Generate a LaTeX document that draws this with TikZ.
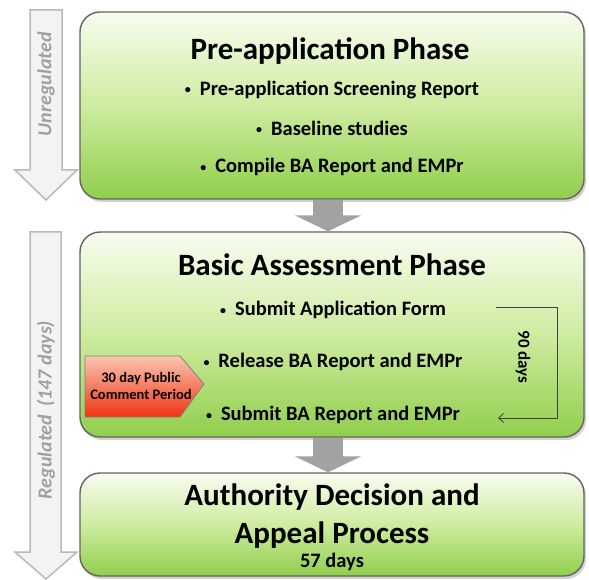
\documentclass[tikz,border=0pt]{standalone}
\usepackage{fontspec}
\setmainfont{Carlito}
\usepackage{tikz}
\usetikzlibrary{arrows.meta, positioning, shadows}
\definecolor{phasetop}{RGB}{248, 252, 240}
\definecolor{phasemid}{RGB}{206, 236, 160}
\definecolor{phasebottom}{RGB}{144, 206, 76}
\definecolor{phaseborder}{RGB}{100, 100, 100}
\definecolor{sidefill}{RGB}{243, 243, 243}
\definecolor{sideborder}{RGB}{185, 185, 185}
\definecolor{sidetext}{RGB}{160, 160, 160}
\definecolor{flowgray}{RGB}{162, 162, 162}
\definecolor{commenttop}{RGB}{250, 198, 178}
\definecolor{commentbottom}{RGB}{240, 52, 18}
\newcommand{\phasebullet}{\raisebox{1.5pt}{\fontsize{12}{12}\selectfont\textbullet}\hspace{9pt}}

\begin{document}
\begin{tikzpicture}[
    x=1pt, y=-1pt,
    phase/.style={draw=phaseborder, line width=1.4pt, rounded corners=20pt, top color=phasetop, bottom color=phasebottom, middle color=phasemid, minimum width=504pt, inner sep=0pt, drop shadow={shadow xshift=2pt, shadow yshift=-3pt, opacity=0.35}},
    phasetitle/.style={font=\bfseries\fontsize{31}{38}\selectfont, align=center},
    item/.style={font=\bfseries\fontsize{20.5}{24}\selectfont},
    sidearrow/.style={draw=sideborder, fill=sidefill, line width=1.5pt},
    sidelabel/.style={font=\bfseries\itshape\fontsize{20}{24}\selectfont, text=sidetext, rotate=90},
    flow/.style={draw=flowgray, line width=30pt, -{Triangle[length=16pt, width=66pt]}},
    comment/.style={draw=gray, line width=0.8pt, top color=commenttop, bottom color=commentbottom},
    commenttext/.style={align=center, font=\bfseries\fontsize{14.5}{17.5}\selectfont},
    span/.style={draw=black!75, line width=0.8pt, -{Straight Barb[length=5pt, width=9pt]}},
    spanlabel/.style={font=\bfseries\fontsize{17}{20}\selectfont, rotate=-90}
]
    \useasboundingbox[fill=white] (0,0) rectangle (589,580);

    % Side arrows
    \draw[sidearrow] (30,10) -- (62,10) -- (62,170) -- (77,170) -- (46,200) -- (15,170) -- (30,170) -- cycle;
    \draw[sidearrow] (30,232) -- (61,232) -- (61,552) -- (77,552) -- (46,579) -- (15,552) -- (30,552) -- cycle;
    \node[sidelabel] (unreg) at (46,84) {Unregulated};
    \node[sidelabel] (reg) at (46,410) {Regulated\hspace{8pt}(147 days)};

    % Phases
    \node[phase, minimum height=187pt] (pre) at (332,105.5) {};
    \node[phase, minimum height=205pt] (basic) at (332,334.5) {};
    \node[phase, minimum height=103pt] (auth) at (332,524.5) {};

    % Pre-application
    \node[phasetitle] (pretitle) at (330,51) {Pre-application Phase};
    \node[item] (screen) at (332,90) {\phasebullet Pre-application Screening Report};
    \node[item] (baseline) at (332,128) {\phasebullet Baseline studies};
    \node[item] (compile) at (332,167) {\phasebullet Compile BA Report and EMPr};

    % Basic assessment
    \node[phasetitle] (basictitle) at (332,265) {Basic Assessment Phase};
    \node[item] (form) at (333,310) {\phasebullet Submit Application Form};
    \node[item] (release) at (333,362) {\phasebullet Release BA Report and EMPr};
    \node[item] (submit) at (333,415) {\phasebullet Submit BA Report and EMPr};
    \shade[comment] (85,356) -- (180,356) -- (204,384) -- (180,417) -- (85,417) -- cycle;
    \node[commenttext] (pcp) at (141,386) {30 day Public\\Comment Period};

    % 90 day span
    \coordinate (spantop) at (496,307);
    \coordinate (spanend) at (498,418);
    \draw[span] (spantop) -- ++(61,0) |- (spanend);
    \node[spanlabel] (ninety) at (523,357) {90 days};

    % Authority decision
    \node[phasetitle] (authtitle) at (332,516) {Authority Decision and\\Appeal Process};
    \node[item] (days57) at (332,562) {57 days};

    % Flow
    \draw[flow] ([xshift=-4pt]pre.south) -- ([xshift=-4pt]basic.north);
    \draw[flow] ([xshift=-4pt]basic.south) -- ([xshift=-4pt]auth.north);

\end{tikzpicture}
\end{document}
